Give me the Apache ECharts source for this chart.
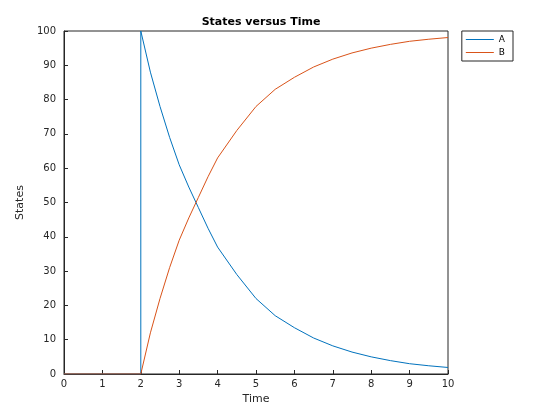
<!DOCTYPE html>
<html><head><meta charset="utf-8">
<script src="https://cdn.jsdelivr.net/npm/echarts@6/dist/echarts.min.js"></script>
<style>html,body{margin:0;padding:0;background:#fff}#c{width:560px;height:420px}</style>
</head><body><div id="c"></div>
<script>
const time = [0, 2, 2, 2.25, 2.5, 2.75, 3, 3.25, 3.5, 3.75, 4, 4.5, 5, 5.5, 6, 6.5, 7, 7.5, 8, 8.5, 9, 9.5, 10];
const stateA = [0, 0, 100, 88, 78, 69, 61, 54.5, 48.5, 42.5, 37, 29, 22, 17, 13.5, 10.5, 8.2, 6.4, 5, 3.9, 3, 2.4, 1.9];
const stateB = [0, 0, 0, 12, 22, 31, 39, 45.5, 51.5, 57.5, 63, 71, 78, 83, 86.5, 89.5, 91.8, 93.6, 95, 96.1, 97, 97.6, 98.1];
const seriesNames = ['A', 'B'];
const pair = (xs, ys) => xs.map((x, i) => [x, ys[i]]);
const ax = {color:'#262626', fontSize:10, fontFamily:'DejaVu Sans'};
const chart = echarts.init(document.getElementById('c'));
chart.setOption({
  animation:false,
  title:{text:'States versus Time', left:256, top:12, textAlign:'center',
    textStyle:{fontSize:11, fontWeight:'bold', color:'#000', fontFamily:'DejaVu Sans'}},
  grid:{left:64, right:112, top:31, bottom:46, show:true, borderColor:'#262626', borderWidth:1},
  legend:{orient:'vertical', right:47, top:31, itemWidth:28, itemHeight:1, itemGap:4,
    padding:[4,8,4,4], borderColor:'#262626', borderWidth:1, icon:'rect',
    textStyle:{fontSize:9, color:'#000', fontFamily:'DejaVu Sans'}, data:seriesNames},
  xAxis:{type:'value', min:0, max:10, interval:1, name:'Time', nameLocation:'middle', nameGap:19,
    nameTextStyle:{fontSize:11, color:'#262626', fontFamily:'DejaVu Sans'},
    axisLine:{lineStyle:{color:'#262626'}}, axisTick:{inside:true, length:4, lineStyle:{color:'#262626'}},
    axisLabel:Object.assign({margin:5}, ax), splitLine:{show:false}},
  yAxis:{type:'value', min:0, max:100, interval:10, name:'States', nameLocation:'middle', nameGap:26,
    nameTextStyle:{fontSize:11, color:'#262626', fontFamily:'DejaVu Sans'},
    axisLine:{show:true, lineStyle:{color:'#262626'}}, axisTick:{show:true, inside:true, length:4, lineStyle:{color:'#262626'}},
    axisLabel:Object.assign({margin:8}, ax), splitLine:{show:false}},
  series:[
    {name:'A', type:'line', data:pair(time, stateA), showSymbol:false, color:'#0072BD', lineStyle:{width:1}},
    {name:'B', type:'line', data:pair(time, stateB), showSymbol:false, color:'#D95319', lineStyle:{width:1}}
  ]
});
</script></body></html>
